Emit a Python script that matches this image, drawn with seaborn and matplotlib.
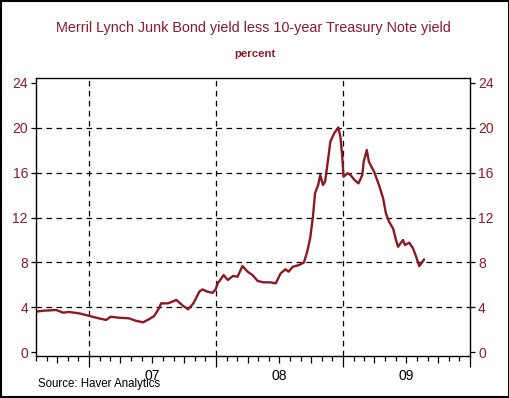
import matplotlib
matplotlib.use("Agg")
import matplotlib.pyplot as plt
from matplotlib.patches import Rectangle
import numpy as np
import pandas as pd
import seaborn as sns

# ---- data ----
dates = [
    "2006-08-01", "2006-08-21", "2006-09-28", "2006-10-18", "2006-11-04", "2006-12-03",
    "2006-12-30", "2007-01-21", "2007-02-19", "2007-03-04", "2007-03-27", "2007-04-25",
    "2007-05-15", "2007-06-05", "2007-06-22", "2007-07-07", "2007-07-21", "2007-07-27",
    "2007-08-16", "2007-09-09", "2007-09-29", "2007-10-13", "2007-10-28", "2007-11-14",
    "2007-11-23", "2007-12-07", "2007-12-22", "2007-12-31", "2008-01-06", "2008-01-23",
    "2008-02-04", "2008-02-19", "2008-03-03", "2008-03-17", "2008-04-01", "2008-04-15",
    "2008-04-30", "2008-05-17", "2008-06-06", "2008-06-21", "2008-07-05", "2008-07-19",
    "2008-07-28", "2008-08-09", "2008-08-27", "2008-09-10", "2008-09-19", "2008-09-28",
    "2008-10-06", "2008-10-12", "2008-10-21", "2008-10-27", "2008-11-04", "2008-11-10",
    "2008-11-19", "2008-11-25", "2008-12-06", "2008-12-18", "2008-12-24", "2008-12-29",
    "2009-01-02", "2009-01-13", "2009-01-22", "2009-02-03", "2009-02-14", "2009-02-25",
    "2009-03-01", "2009-03-10", "2009-03-16", "2009-03-31", "2009-04-14", "2009-04-26",
    "2009-05-04", "2009-05-13", "2009-05-25", "2009-06-02", "2009-06-08", "2009-06-22",
    "2009-06-28", "2009-07-10", "2009-07-21", "2009-07-30", "2009-08-08", "2009-08-14",
    "2009-08-22",
]
spread = [
    3.62, 3.70, 3.77, 3.53, 3.59, 3.47,
    3.26, 3.08, 2.88, 3.17, 3.08, 3.03,
    2.81, 2.67, 2.94, 3.23, 3.92, 4.36,
    4.36, 4.66, 4.12, 3.83, 4.36, 5.40,
    5.60, 5.40, 5.30, 5.60, 6.14, 6.88,
    6.44, 6.80, 6.73, 7.68, 7.18, 6.88,
    6.35, 6.23, 6.23, 6.14, 7.03, 7.39,
    7.18, 7.62, 7.77, 8.00, 8.90, 10.15,
    12.08, 14.16, 14.90, 15.79, 14.90, 15.20,
    17.27, 18.75, 19.50, 20.03, 19.20, 17.57,
    15.64, 15.94, 15.79, 15.34, 15.05, 15.79,
    16.97, 18.01, 16.97, 16.08, 14.90, 13.71,
    12.38, 11.63, 11.00, 10.00, 9.40, 10.00,
    9.55, 9.76, 9.26, 8.51, 7.68, 7.92,
    8.28,
]
y_ticks = [0, 4, 8, 12, 16, 20, 24]
year_labels = ["07", "08", "09"]

title = "Merril Lynch Junk Bond yield less 10-year Treasury Note yield"
subtitle = "percent"
source = "Source: Haver Analytics"

df = pd.DataFrame({"date": pd.to_datetime(dates), "spread": spread})

# ---- style ----
sns.set_theme(style="white")
plt.rcParams["font.family"] = ["Liberation Sans", "DejaVu Sans"]
RED = "#8c1b2a"
LINE = "#8b1a22"

fig = plt.figure(figsize=(5.10, 3.98), dpi=100)
ax = fig.add_axes([36 / 510, 1 - 356 / 398, (470 - 36) / 510, (356 - 78) / 398])

sns.lineplot(data=df, x="date", y="spread", ax=ax, color=LINE, linewidth=1.7)

ax.set_xlim(pd.Timestamp("2006-08-01"), pd.Timestamp("2010-01-01"))
ax.set_ylim(-0.33, 24.43)
ax.set_xlabel("")
ax.set_ylabel("")

# dashed grid
for v in y_ticks[1:-1]:
    ax.axhline(v, color="black", lw=0.9, ls=(0, (4.5, 3.5)), zorder=1)
for yr in ["2007-01-01", "2008-01-01", "2009-01-01"]:
    ax.axvline(pd.Timestamp(yr), color="black", lw=0.9, ls=(0, (4.5, 3.5)), zorder=1)

# spines
for s in ax.spines.values():
    s.set_color("black")
    s.set_linewidth(1.0)

# y ticks both sides
ax.set_yticks(y_ticks)
ax.tick_params(axis="y", which="both", left=True, right=True, labelleft=True,
               labelright=True, direction="out", length=3.6, width=0.9,
               color="black", pad=2.2, labelsize=10, labelcolor=RED)

# x ticks
quarters = pd.date_range("2006-10-01", "2010-01-01", freq="QS")
months = pd.date_range("2006-08-01", "2010-01-01", freq="MS")
ax.set_xticks(quarters)
labels = []
for q in quarters:
    if q.month == 7:
        labels.append(year_labels[q.year - 2007])
    else:
        labels.append("")
ax.set_xticklabels(labels)
ax.set_xticks(months, minor=True)
ax.tick_params(axis="x", which="major", bottom=True, direction="out", length=5.0,
               width=0.9, color="black", pad=4.4, labelsize=10, labelcolor="black")
ax.tick_params(axis="x", which="minor", bottom=True, direction="out", length=3.6,
               width=0.9, color="black")
for q, t in zip(quarters, ax.xaxis.get_major_ticks()):
    if q.month == 1:
        t.tick1line.set_markersize(8.0)

# titles and source
fig.text(0.497, 1 - 28 / 398, title, ha="center", va="center", color=RED, fontsize=10.4)
fig.text(0.50, 1 - 54 / 398, subtitle, ha="center", va="center", color=RED,
         fontsize=8.2, fontweight="bold")
fig.text(38 / 510, 1 - 384 / 398, source, ha="left", va="center", color="black",
         fontsize=8.3)

# border around figure
fig.patches.append(Rectangle((0.002, 0.002), 0.996, 0.996, transform=fig.transFigure,
                             fill=False, lw=1.5, ec="black"))

fig.savefig("out.png", dpi=100)
